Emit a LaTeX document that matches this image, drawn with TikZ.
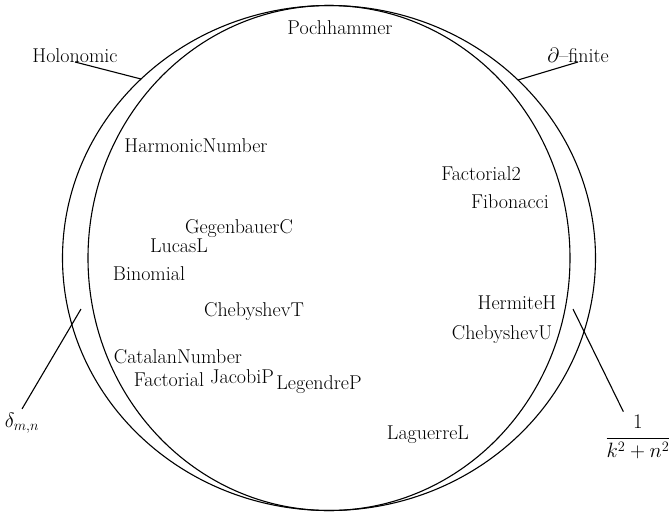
\documentclass[tikz,border=0pt]{standalone}
\usetikzlibrary{calc}
\begin{document}
\begin{tikzpicture}[x=1pt,y=-1pt,line width=1.1pt,
                    every node/.style={font=\fontsize{20}{24}\selectfont},
                    fn/.style={anchor=base}]
                \useasboundingbox (0,0) rectangle (670,512);
                % outer and inner class
                \draw (329,258) ellipse [x radius=266.5pt, y radius=252.5pt];
                \draw (329,258) ellipse [x radius=241pt, y radius=252.5pt];
                % functions
                \node[fn] (poch)  at (340,34)  {Pochhammer};
                \node[fn] (harm)  at (196,152) {HarmonicNumber};
                \node[fn] (fac2)  at (481,180) {Factorial2};
                \node[fn] (fib)   at (510,208) {Fibonacci};
                \node[fn] (gegen) at (239,233) {GegenbauerC};
                \node[fn] (lucas) at (179,252) {LucasL};
                \node[fn] (binom) at (149,280) {Binomial};
                \node[fn] (herm)  at (517,309) {HermiteH};
                \node[fn] (chebt) at (254,316) {ChebyshevT};
                \node[fn] (chebu) at (502,339) {ChebyshevU};
                \node[fn] (catal) at (178,363) {CatalanNumber};
                \node[fn] (fact)  at (169,386) {Factorial};
                \node[fn] (jacob) at (242,383) {JacobiP};
                \node[fn] (legen) at (319,389) {LegendreP};
                \node[fn] (lagu)  at (428,439) {LaguerreL};
                % labels outside
                \node[fn] (holo)  at (75,62)   {Holonomic};
                \node[fn] (dfin)  at (578,62)  {$\partial$--finite};
                \node     (delta) at (22,423)  {$\delta_{m,n}$};
                \node     (frac)  at (638,437) {$\displaystyle\frac{1}{k^2+n^2}$};
                \coordinate (holoend) at (141,79);
                \coordinate (dfinend) at (518,80);
                \coordinate (dgap)    at (81,309);
                \coordinate (kgap)    at (573,309);
                \draw (holo.base) -- (holoend);
                \draw (dfin.base) -- (dfinend);
                \draw (dgap) -- (delta.north);
                \draw (kgap) -- (frac.120);
\end{tikzpicture}
\end{document}
